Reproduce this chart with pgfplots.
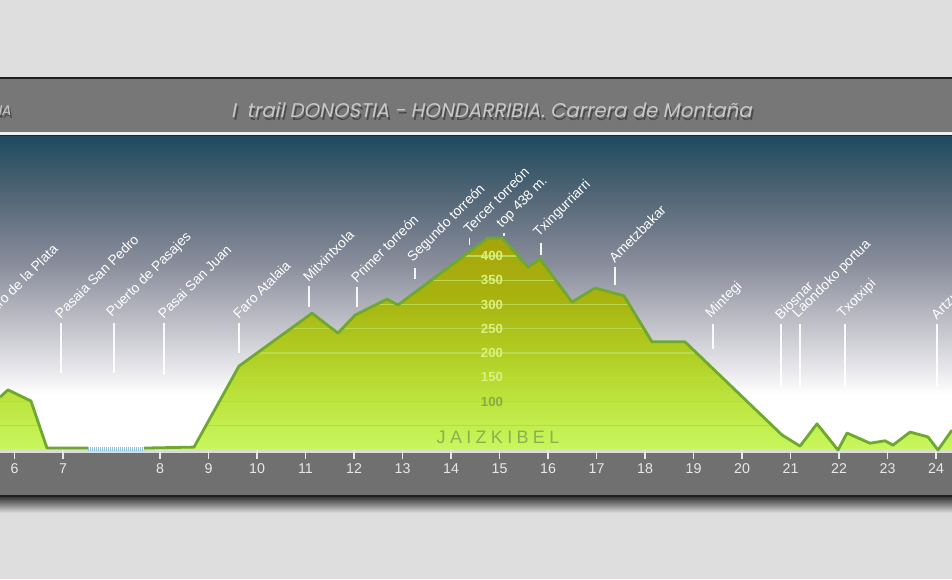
\documentclass[border=0pt]{standalone}
\usepackage{pgfplots}
\pgfplotsset{compat=1.18}
\usepackage{pgfplotstable}
\usepackage{fontspec}
\setmainfont{Liberation Sans}
\newfontfamily\titlefont[FakeSlant=0.2]{Poppins}
\newfontfamily\spacedfont[LetterSpace=24]{Liberation Sans}

\definecolor{bglight}{HTML}{DEDEDE}
\definecolor{framec}{HTML}{1E1E1E}
\definecolor{titleband}{HTML}{777777}
\definecolor{whiteline}{HTML}{EEEEEE}
\definecolor{bandc}{HTML}{707070}
\definecolor{stripc}{HTML}{DCDCDC}
\definecolor{ticktext}{HTML}{E8E8E8}
\definecolor{titletext}{HTML}{C8C8C8}
\definecolor{sky1}{HTML}{E4E4E8}
\definecolor{sky2}{HTML}{B8B9C2}
\definecolor{sky3}{HTML}{8A8E9C}
\definecolor{sky4}{HTML}{566878}
\definecolor{sky5}{HTML}{1E4A5E}
\definecolor{g1}{HTML}{C8F75E}
\definecolor{g2}{HTML}{BDE43E}
\definecolor{g3}{HTML}{B0CC22}
\definecolor{g4}{HTML}{A8B410}
\definecolor{g5}{HTML}{A6A40A}
\definecolor{outlinec}{HTML}{6EA82E}
\definecolor{gridc}{HTML}{B8DA4C}
\definecolor{elevlight}{HTML}{DCF080}
\definecolor{elevdark}{HTML}{8CA846}
\definecolor{jaiz}{HTML}{8FAE50}
\definecolor{ferry}{HTML}{8EC4DE}

\pgfdeclareverticalshading{sky}{100bp}{color(0bp)=(white); color(25bp)=(white); color(33.8bp)=(white); color(38.5bp)=(sky1); color(46.5bp)=(sky2); color(54.5bp)=(sky3); color(64.8bp)=(sky4); color(75bp)=(sky5); color(100bp)=(sky5)}
\pgfdeclareverticalshading{greenfill}{100bp}{color(0bp)=(g1); color(25bp)=(g1); color(36.8bp)=(g2); color(48.6bp)=(g3); color(60.4bp)=(g4); color(75bp)=(g5); color(100bp)=(g5)}

\pgfplotstableread{
x y
5.701 109
5.866 124
6.340 101
6.670 4
7.515 4
7.515 0
8.670 0
8.670 4
9.701 6
10.629 173
12.134 282
12.670 241
13.021 278
13.680 311
13.907 299
15.763 437
16.052 437
16.588 377
16.835 394
17.495 305
17.969 334
18.567 318
19.144 223
19.825 223
21.825 31
22.196 8
22.546 54
22.979 0
23.165 35
23.639 14
23.948 19
24.113 10
24.464 37
24.835 27
25.041 0
25.330 41
}\profile

\newcommand\placefont{\fontsize{6.9}{8}\selectfont}
\newcommand\place[5]{%
  \draw[white, line width=0.75pt, opacity=0.92] (axis cs:#1,#2) -- (axis cs:#1,#3);
  \node[rotate=45, anchor=south west, inner sep=0pt, text=white, font=\placefont] at (axis cs:#1,#4) {#5};}

\begin{document}
\begin{tikzpicture}
\useasboundingbox (0,0) rectangle (476pt,289.5pt);
\clip (0,0) rectangle (476pt,289.5pt);
\fill[bglight] (0,0) rectangle (476pt,289.5pt);
\shade[top color=black!78, bottom color=bglight] (0,33pt) rectangle (476pt,41pt);
\fill[framec] (0,41pt) rectangle (476pt,251pt);
\fill[titleband] (0,223.5pt) rectangle (476pt,250pt);
\fill[whiteline] (0,222pt) rectangle (476pt,223.5pt);
\fill[bandc] (0,42pt) rectangle (476pt,63pt);
\fill[stripc] (0,63pt) rectangle (476pt,64.5pt);
% title
\node[anchor=base, font=\titlefont\fontsize{9.9}{11}\selectfont, text=black!75, opacity=0.8] at (246.6pt,229.4pt) {I\ \ trail DONOSTIA - HONDARRIBIA. Carrera de Montaña};
\node[anchor=base, font=\titlefont\fontsize{9.9}{11}\selectfont, text=titletext] at (245.75pt,230.5pt) {I\ \ trail DONOSTIA - HONDARRIBIA. Carrera de Montaña};
\node[anchor=base east, font=\titlefont\fontsize{7}{8}\selectfont, text=black!75, opacity=0.8] at (9.8pt,230.4pt) {NA};
\node[anchor=base east, font=\titlefont\fontsize{7}{8}\selectfont, text=titletext] at (9pt,231.5pt) {NA};

\begin{axis}[at={(0pt,64.5pt)}, anchor=south west,
  width=476pt, height=157pt, scale only axis,
  xmin=5.701, xmax=25.33, ymin=0, ymax=647.4,
  clip=false, axis line style={draw=none},
  ytick=\empty,
  xtick={6,7,9,10,11,12,13,14,15,16,17,18,19,20,21,22,23,24,25},
  xticklabels={6,7,8,9,10,11,12,13,14,15,16,17,18,19,20,21,22,23,24},
  xtick pos=bottom, tick align=outside, major tick length=4.5pt,
  tick style={draw=ticktext, line width=0.7pt},
  xticklabel style={font=\fontsize{7.1}{8}\selectfont, text=ticktext, anchor=center, yshift=-5pt}]
% green area
\addplot[draw=none, shade, shading=greenfill, mark=none] table[x=x,y=y] {\profile} \closedcycle;
% grid lines within green
\pgfplotsinvokeforeach{50,100,...,400}{
  \draw[gridc, line width=0.6pt] (axis cs:5.701,#1) -- (axis cs:25.33,#1);
}
% sky above profile
\addplot[draw=none, shade, shading=sky, mark=none] table[x=x,y=y] {\profile} -- (axis cs:25.33,647.4) -- (axis cs:5.701,647.4) -- cycle;
% ferry crossing
\addplot[ferry, line width=2pt, dash pattern=on 0.5pt off 0.5pt, mark=none] coordinates {(7.515,2) (8.67,2)};
% outline
\addplot[outlinec, line width=1.4pt, mark=none, line join=round, skip coords between index={5}{40}] table[x=x,y=y] {\profile};
\addplot[outlinec, line width=1.4pt, mark=none, line join=round, skip coords between index={0}{7}] table[x=x,y=y] {\profile};
% elevation labels
\pgfplotsinvokeforeach{150,200,...,400}{
  \node[font=\bfseries\fontsize{6.6}{7.5}\selectfont, text=elevlight, inner sep=0.5pt] at (axis cs:15.845,#1) {#1};
}
\node[font=\bfseries\fontsize{6.6}{7.5}\selectfont, text=elevdark, inner sep=0.5pt] at (axis cs:15.845,100) {100};
\node[font=\spacedfont\fontsize{9}{10}\selectfont, text=jaiz] at (axis cs:15.969,26.8) {JAIZKIBEL};
% place names
\place{5.495}{261.9}{158.8}{268.1}{Faro de la Plata}
\place{6.959}{261.9}{158.8}{268.1}{Pasaia San Pedro}
\place{8.052}{261.9}{158.8}{268.1}{Puerto de Pasajes}
\place{9.082}{261.9}{154.6}{268.1}{Pasai San Juan}
\place{10.629}{261.9}{200}{268.1}{Faro Atalaia}
\place{12.072}{338.1}{294.8}{344.3}{Mitxintxola}
\place{13.062}{336.1}{294.8}{342.3}{Primer torreón}
\place{14.258}{375.3}{352.6}{381.5}{Segundo torreón}
\place{15.38}{437.1}{422.7}{443.5}{Tercer torreón}
\place{16.09}{448}{441.5}{452}{top 438 m.}
\place{16.856}{426.8}{402.1}{433}{Txingurriarri}
\place{18.381}{377.3}{340.2}{383.5}{Ametzbakar}
\place{20.402}{259.8}{208.2}{266}{Mintegi}
\place{21.804}{259.8}{129.9}{266}{Biosnar}
\place{22.196}{259.8}{129.9}{266}{Laondoko portua}
\place{23.124}{259.8}{129.9}{266}{Txotxipi}
\place{25.021}{259.8}{129.9}{266}{Artzu}
\end{axis}
\end{tikzpicture}
\end{document}
